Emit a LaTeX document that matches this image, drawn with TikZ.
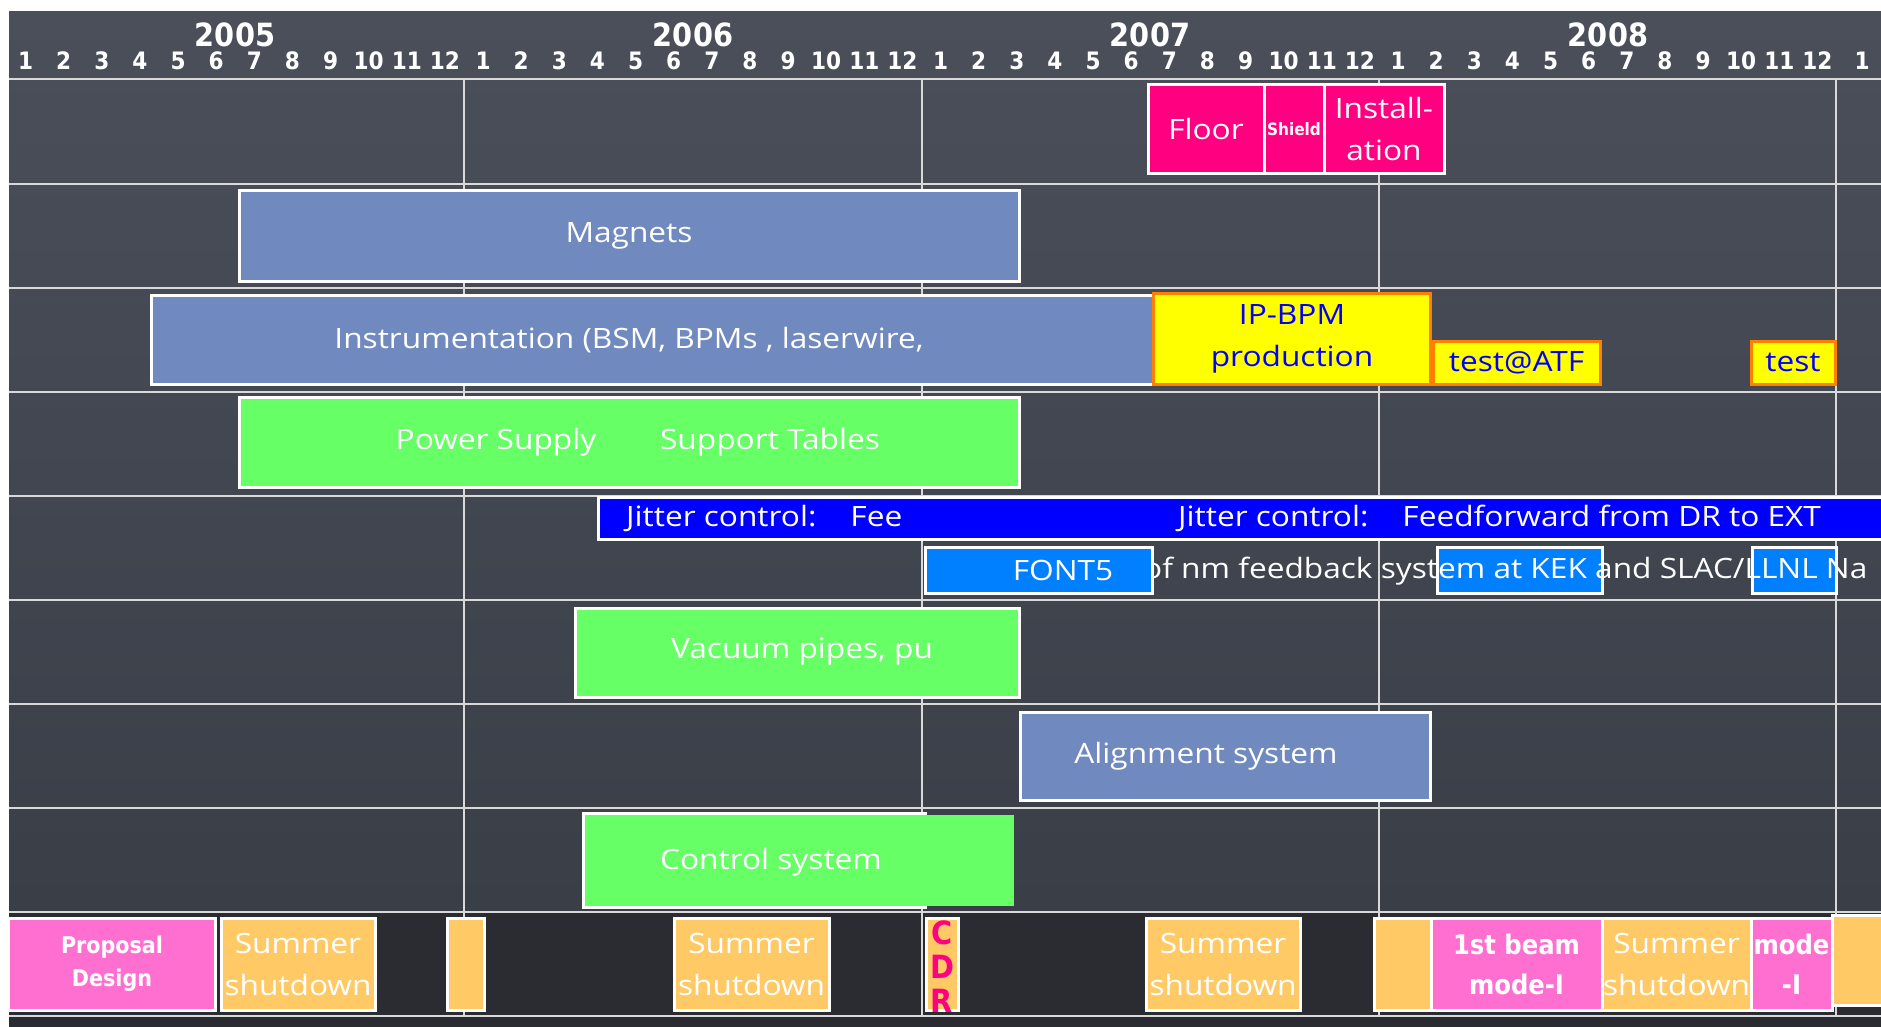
\documentclass[tikz,border=0pt]{standalone}
\usepackage{fontspec}
\setmainfont{Open Sans}[FakeStretch=1.13]
\newfontfamily\condfont{DejaVu Sans Condensed}
\definecolor{boardtop}{HTML}{4A4F5A}
\definecolor{boardbot}{HTML}{3A3E47}
\definecolor{boarddark}{HTML}{2A2C31}
\definecolor{gridgray}{HTML}{D9D9D9}
\definecolor{hotpink}{HTML}{FF0080}
\definecolor{softpink}{HTML}{FF6FCF}
\definecolor{peach}{HTML}{FFCA66}
\definecolor{limegreen}{HTML}{66FF66}
\definecolor{steel}{HTML}{7089BE}
\definecolor{deepblue}{HTML}{0000FF}
\definecolor{skyblue}{HTML}{0080FF}
\definecolor{ipyellow}{HTML}{FFFF00}
\definecolor{iporange}{HTML}{FF7F00}

\begin{document}
\begin{tikzpicture}[x=1pt,y=-1pt,
    barbox/.style={draw=white, line width=3pt, inner sep=0pt, outer sep=0pt},
    chalktext/.style={text=white, font=\fontsize{28}{42}\selectfont, align=center, inner sep=0pt},
    boldtext/.style={text=white, font=\condfont\bfseries\fontsize{27}{40}\selectfont, align=center, inner sep=0pt},
    monthlabel/.style={text=white, font=\condfont\bfseries\fontsize{24}{24}\selectfont, inner sep=0pt},
    yearlabel/.style={text=white, font=\condfont\bfseries\fontsize{32}{32}\selectfont, inner sep=0pt},
    gridline/.style={draw=gridgray, line width=2pt}]

    \useasboundingbox (0,0) rectangle (1881,1027);
    \fill[white] (0,0) rectangle (1881,1027);
    \shade[top color=boardtop, bottom color=boardbot] (9,12) rectangle (1881,912);
    \fill[boarddark] (9,912) rectangle (1881,1027);

    % grid
    \foreach \gy in {79,184,288,392,496,600,704,808,912,1016}
        \draw[gridline] (9,\gy) -- (1881,\gy);
    \foreach \gx in {464,922,1379,1836}
        \draw[gridline] (\gx,79) -- (\gx,1016);

    % years and months
    \node[yearlabel] (y2005) at (235,35) {2005};
    \node[yearlabel] (y2006) at (693,35) {2006};
    \node[yearlabel] (y2007) at (1150,35) {2007};
    \node[yearlabel] (y2008) at (1608,35) {2008};
    \foreach \yr in {0,1,2,3}
        \foreach \m in {1,...,12}
            \node[monthlabel] (m\yr-\m) at ({6.5+457.5*\yr+38.125*(\m-0.5)},61) {\m};
    \node[monthlabel] (m4-1) at (1862,61) {1};

    % building
    \node[barbox, chalktext, fill=hotpink, minimum width=116, minimum height=89] (floor) at (1206,129.5) {Floor};
    \node[barbox, boldtext, fill=hotpink, minimum width=60, minimum height=89, font=\condfont\bfseries\fontsize{17}{17}\selectfont] (shield) at (1294,129.5) {Shield};
    \node[barbox, chalktext, fill=hotpink, minimum width=120, minimum height=89] (install) at (1384,129.5) {Install-\\ation};

    % hardware
    \node[barbox, chalktext, fill=steel, minimum width=780, minimum height=90] (magnets) at (629,236) {Magnets};
    \node[barbox, fill=steel, minimum width=1002, minimum height=89] (instr) at (652,339.5) {};
    \node[chalktext] (instrtext) at (629,340) {Instrumentation (BSM, BPMs , laserwire,};
    \node[barbox, chalktext, draw=iporange, fill=ipyellow, text=deepblue, minimum width=277, minimum height=91] (ipbpm) at (1292,338.5) {IP-BPM\\production};
    \node[barbox, chalktext, draw=iporange, fill=ipyellow, text=deepblue, minimum width=167, minimum height=43] (testatf) at (1516.5,362.5) {test@ATF};
    \node[barbox, chalktext, draw=iporange, fill=ipyellow, text=deepblue, minimum width=84, minimum height=43] (test) at (1793,362.5) {test};

    \node[barbox, fill=limegreen, minimum width=780, minimum height=90] (power) at (629,442) {};
    \node[chalktext] (powertext) at (496,442) {Power Supply};
    \node[chalktext] (tabletext) at (770,442) {Support Tables};

    % jitter control
    \node[barbox, fill=deepblue, minimum width=1292, minimum height=42] (jitter) at (1244,518) {};
    \node[chalktext, anchor=west] (jittera) at (626,518) {Jitter control:\hspace*{34pt}Fee};
    \node[chalktext, anchor=west] (jitterb) at (1178,518) {Jitter control:\hspace*{34pt}Feedforward from DR to EXT};
    \node[barbox, fill=skyblue, minimum width=165, minimum height=46] (kek) at (1519.5,570) {};
    \node[barbox, fill=skyblue, minimum width=84, minimum height=46] (llnl) at (1794,570) {};
    \node[chalktext, anchor=west] (nmtext) at (1143,571) {of nm feedback system at KEK and SLAC/LLNL Na};
    \node[barbox, fill=skyblue, minimum width=227, minimum height=46] (font5) at (1038.5,570) {};
    \node[chalktext] (font5text) at (1063,570) {FONT5};

    \node[barbox, fill=limegreen, minimum width=444, minimum height=89] (vacuum) at (797,652.5) {};
    \node[chalktext, anchor=west] (vacuumtext) at (671,652) {Vacuum pipes, pu};

    \node[barbox, chalktext, fill=steel, minimum width=410, minimum height=88] (align) at (1225,756) {};
    \node[chalktext] (aligntext) at (1206,756) {Alignment system};

    \node[barbox, fill=limegreen, minimum width=342, minimum height=94] (control) at (754,860) {};
    \node[fill=limegreen, inner sep=0pt, minimum width=133, minimum height=91] (controlpatch) at (947.5,860.5) {};
    \node[chalktext] (controltext) at (771,862) {Control system};

    % milestones
    \node[barbox, boldtext, fill=softpink, minimum width=207, minimum height=92, font=\condfont\bfseries\fontsize{23}{33}\selectfont] (proposal) at (112,964) {Proposal\\Design};
    \node[barbox, chalktext, fill=peach, minimum width=154, minimum height=92] (summera) at (298,964) {Summer\\shutdown};
    \node[barbox, fill=peach, minimum width=37, minimum height=92] (gapa) at (465.5,964) {};
    \node[barbox, chalktext, fill=peach, minimum width=155, minimum height=92] (summerb) at (751.5,964) {Summer\\shutdown};
    \node[barbox, fill=peach, minimum width=32, minimum height=92] (cdr) at (942,964) {};
    \node[boldtext, text=hotpink, font=\condfont\bfseries\fontsize{32}{34}\selectfont] (cdrtext) at (942,967) {C\\D\\R};
    \node[barbox, chalktext, fill=peach, minimum width=154, minimum height=92] (summerc) at (1223,964) {Summer\\shutdown};
    \node[barbox, fill=peach, minimum width=57, minimum height=92] (gapb) at (1402.5,964) {};
    \node[barbox, boldtext, fill=softpink, minimum width=171, minimum height=92] (firstbeam) at (1516.5,964) {1st beam\\mode-I};
    \node[barbox, chalktext, fill=peach, minimum width=149, minimum height=92] (summerd) at (1676.5,964) {Summer\\shutdown};
    \node[barbox, boldtext, fill=softpink, minimum width=81, minimum height=92] (mode) at (1791.5,964) {mode\\-I};
    \node[barbox, fill=peach, minimum width=60, minimum height=90] (gapc) at (1862,960) {};

\end{tikzpicture}
\end{document}
